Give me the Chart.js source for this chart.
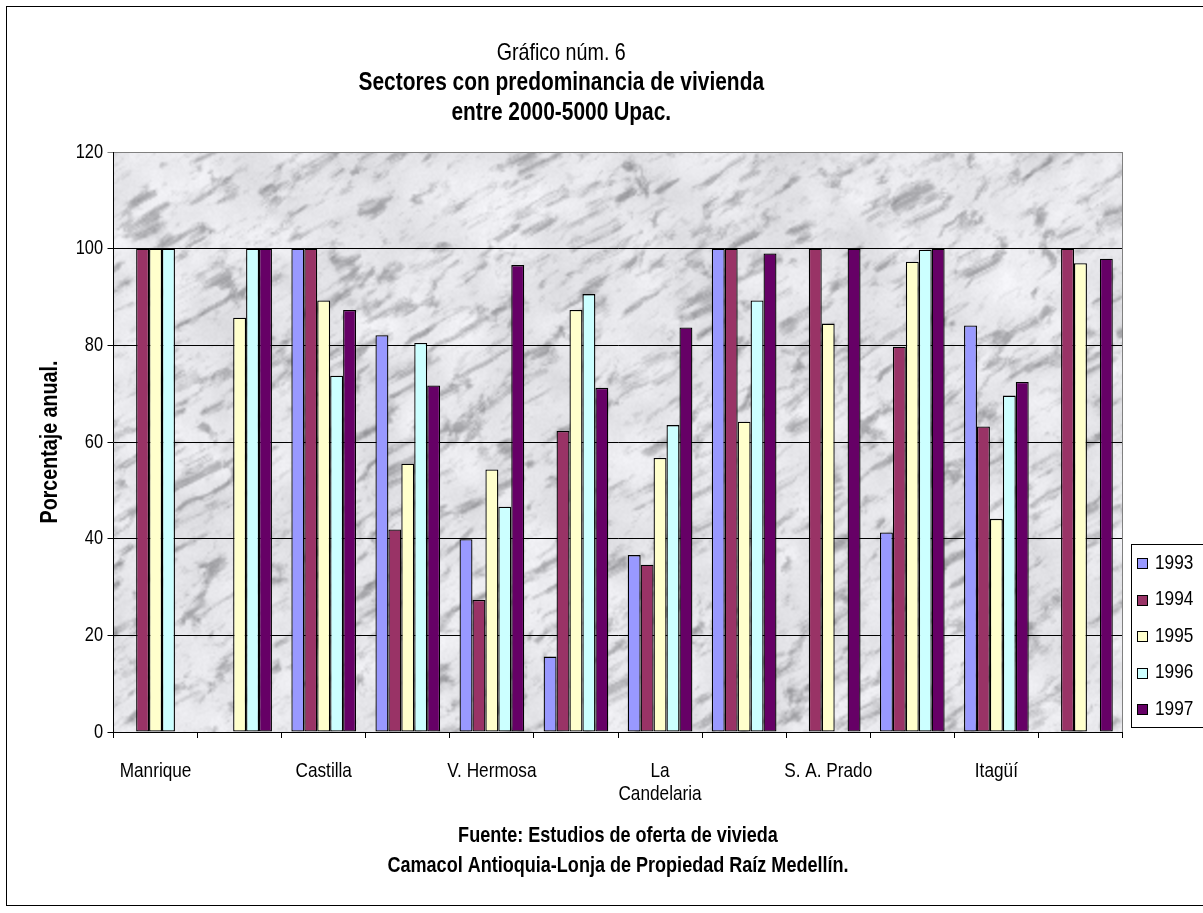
<!DOCTYPE html>
<html>
<head>
<meta charset="utf-8">
<script src="https://cdn.jsdelivr.net/npm/chart.js@4"></script>
<style>
  html, body { margin: 0; padding: 0; background: #fff; }
  #wrap { width: 1203px; height: 913px; }
</style>
</head>
<body>
<div id="wrap"><canvas id="c" width="1203" height="913"></canvas></div>
<script>
// Sectors (only every other sector name is printed on the axis)
const categories = ['Manrique', '', 'Castilla', '', 'V. Hermosa', '', ['La', 'Candelaria'], '', 'S. A. Prado', '', 'Itagüí', ''];
const years = ['1993', '1994', '1995', '1996', '1997'];

// Annual percentage per sector and year (null = no data)
const v1993 = [null, null, 100, 82.1, 39.9, 15.6, 36.6, 100, null, 41.3, 84.1, null];
const v1994 = [100, null, 100, 41.9, 27.3, 62.3, 34.6, 100, 100, 79.7, 63.2, 100];
const v1995 = [100, 85.7, 89.3, 55.5, 54.3, 87.3, 56.7, 64.2, 84.5, 97.3, 44.1, 97.0];
const v1996 = [100, 100, 73.7, 80.5, 46.6, 90.6, 63.5, 89.3, null, 99.8, 69.6, null];
const v1997 = [null, 100, 87.3, 71.7, 96.6, 71.2, 83.7, 99.0, 100, 100, 72.4, 97.9];

const yTickValues = [0, 20, 40, 60, 80, 100, 120];
const seriesColors = ['#9999FF', '#993366', '#FFFFCC', '#CCFFFF', '#660066'];

const titleText = 'Gráfico núm. 6';
const subtitleLines = ['Sectores con predominancia de vivienda', 'entre 2000-5000 Upac.'];
const yAxisTitle = 'Porcentaje anual.';
const sourceLines = ['Fuente: Estudios de oferta de vivieda', 'Camacol Antioquia-Lonja de Propiedad Raíz Medellín.'];

// ---- font: a narrow Arial-like face, or Liberation Sans squeezed horizontally ----
function hasFont(name) {
  const c = document.createElement('canvas').getContext('2d');
  c.font = '40px monospace';
  const a = c.measureText('Manrique 1993 wmWM').width;
  c.font = '40px "' + name + '", monospace';
  const b = c.measureText('Manrique 1993 wmWM').width;
  return Math.abs(a - b) > 0.5;
}
const NARROW = hasFont('Liberation Sans Narrow');
const FAMILY = NARROW ? '"Liberation Sans Narrow", "Liberation Sans", Arial, sans-serif'
                      : '"Liberation Sans", Arial, sans-serif';
const SQUEEZE = 0.82;

const canvas = document.getElementById('c');
const ctx2d = canvas.getContext('2d');
if (!NARROW) {
  const nativeFill = ctx2d.fillText;
  ctx2d.fillText = function (text, x, y, maxWidth) {
    const w = this.measureText(text).width * SQUEEZE;
    const mw = (maxWidth !== undefined && maxWidth !== null) ? Math.min(maxWidth, w) : w;
    return nativeFill.call(this, text, x, y, Math.max(mw, 0.01));
  };
}

// ---- marble texture for the plot background ----
function hash2(ix, iy, seed) {
  let h = Math.imul(ix, 374761393) ^ Math.imul(iy, 668265263) ^ Math.imul(seed, 1442695041);
  h = Math.imul(h ^ (h >>> 13), 1274126177);
  h ^= h >>> 16;
  return (h >>> 0) / 4294967295;
}
function vnoise(x, y, seed) {
  const ix = Math.floor(x), iy = Math.floor(y);
  const fx = x - ix, fy = y - iy;
  const sx = fx * fx * (3 - 2 * fx), sy = fy * fy * (3 - 2 * fy);
  const a = hash2(ix, iy, seed), b = hash2(ix + 1, iy, seed);
  const c = hash2(ix, iy + 1, seed), d = hash2(ix + 1, iy + 1, seed);
  const top = a + (b - a) * sx, bot = c + (d - c) * sx;
  return top + (bot - top) * sy;
}
function fbm(x, y, oct, seed) {
  let s = 0, amp = 0.5, f = 1, norm = 0;
  for (let i = 0; i < oct; i++) {
    s += amp * vnoise(x * f, y * f, seed + i * 17);
    norm += amp; amp *= 0.55; f *= 2.07;
  }
  return s / norm;
}
function smooth(e0, e1, x) {
  const t = Math.max(0, Math.min(1, (x - e0) / (e1 - e0)));
  return t * t * (3 - 2 * t);
}
// texture is generated at half resolution and scaled up, which keeps it soft
function makeMarble(w, h) {
  const cv = document.createElement('canvas');
  cv.width = w; cv.height = h;
  const g = cv.getContext('2d');
  const img = g.createImageData(w, h);
  const d = img.data;
  for (let y = 0; y < h; y++) {
    for (let x = 0; x < w; x++) {
      // grain runs diagonally, rising to the right
      const u = x * 0.82 - y * 0.57;
      const v = x * 0.57 + y * 0.82;
      const warp = fbm(x / 28, y / 28, 3, 5) * 3.5;
      const m1 = fbm(u / 13 + warp, v / 5 + warp * 0.4, 5, 11);
      const m2 = fbm(u / 6, v / 2.5, 3, 23);
      const light = fbm(x / 22, y / 22, 3, 37);
      const smudge = smooth(0.49, 0.82, m1);
      const fleck = smooth(0.58, 0.85, m2);
      let val = 231 + (light - 0.5) * 34 - smudge * 66 - fleck * 18 - (vnoise(x, y, 41) - 0.5) * 6;
      val = Math.max(140, Math.min(247, val));
      const i = (y * w + x) * 4;
      d[i] = val; d[i + 1] = val; d[i + 2] = Math.min(255, val + 4); d[i + 3] = 255;
    }
  }
  g.putImageData(img, 0, 0);
  return cv;
}
let marbleCache = null;

const framePlugin = {
  id: 'frame',
  beforeDraw(chart) {
    const ctx = chart.ctx, a = chart.chartArea;
    ctx.save();
    ctx.fillStyle = '#fff';
    ctx.fillRect(0, 0, chart.width, chart.height);
    // outer frame
    ctx.strokeStyle = '#000';
    ctx.lineWidth = 1;
    ctx.strokeRect(6.5, 6.5, chart.width + 20, 899);
    // plot background
    const w = Math.round(a.right - a.left), h = Math.round(a.bottom - a.top);
    if (!marbleCache || marbleCache.w !== w || marbleCache.h !== h) {
      marbleCache = { w, h, cv: makeMarble(Math.ceil(w / 2), Math.ceil(h / 2)) };
    }
    ctx.imageSmoothingEnabled = true;
    ctx.imageSmoothingQuality = 'high';
    ctx.drawImage(marbleCache.cv, a.left, a.top, w, h);
    ctx.restore();
  },
  beforeDatasetsDraw(chart) {
    const ctx = chart.ctx, a = chart.chartArea;
    ctx.save();
    ctx.strokeStyle = '#808080';
    ctx.lineWidth = 1;
    ctx.beginPath();
    const xr = Math.round(a.right) - 0.5;
    ctx.moveTo(xr, a.top);
    ctx.lineTo(xr, a.bottom);
    ctx.stroke();
    ctx.restore();
  },
  afterDraw(chart) {
    const ctx = chart.ctx, a = chart.chartArea;
    ctx.save();
    ctx.fillStyle = '#000';
    ctx.textAlign = 'center';
    ctx.textBaseline = 'middle';
    ctx.font = 'bold 22px ' + FAMILY;
    const cx = (a.left + a.right) / 2;
    sourceLines.forEach((line, i) => ctx.fillText(line, cx, 836 + i * 30));

    // legend
    const ds = chart.data.datasets;
    const lx = 1131.5, ly = 544.5, lh = 183;
    ctx.fillStyle = '#fff';
    ctx.fillRect(lx, ly, 100, lh);
    ctx.strokeStyle = '#000';
    ctx.strokeRect(lx, ly, 100, lh);
    ctx.font = '21px ' + FAMILY;
    ctx.textAlign = 'left';
    ds.forEach((d, i) => {
      const cy = 563 + i * 36.5;
      ctx.fillStyle = d.backgroundColor;
      ctx.fillRect(1137.5, Math.round(cy - 5) + 0.5, 10, 10);
      ctx.strokeStyle = '#000';
      ctx.strokeRect(1137.5, Math.round(cy - 5) + 0.5, 10, 10);
      ctx.fillStyle = '#000';
      ctx.fillText(d.label, 1155, cy);
    });
    ctx.restore();
  }
};

const allSeries = [v1993, v1994, v1995, v1996, v1997];

new Chart(canvas, {
  type: 'bar',
  data: {
    labels: categories,
    datasets: years.map((yr, i) => ({
      label: yr,
      data: allSeries[i],
      backgroundColor: seriesColors[i],
      borderColor: '#000',
      borderWidth: 1.3,
      borderSkipped: false,
      categoryPercentage: 5 / 6.5,
      barPercentage: 1
    }))
  },
  options: {
    responsive: false,
    animation: false,
    layout: { padding: { left: 0, right: 80.5, top: 0, bottom: 81 } },
    plugins: {
      legend: { display: false },
      tooltip: { enabled: false },
      title: {
        display: true,
        text: titleText,
        color: '#000',
        font: { family: FAMILY, size: 24, weight: 'normal', lineHeight: '30px' },
        padding: { top: 38, bottom: 0 }
      },
      subtitle: {
        display: true,
        text: subtitleLines,
        color: '#000',
        font: { family: FAMILY, size: 25.5, weight: 'bold', lineHeight: '30px' },
        padding: { top: 0, bottom: 24 }
      }
    },
    scales: {
      x: {
        offset: true,
        grid: { offset: true, drawOnChartArea: false, drawTicks: true, tickLength: 6, color: '#000' },
        border: { color: '#000', width: 1 },
        ticks: {
          autoSkip: false, maxRotation: 0, minRotation: 0, padding: 22, color: '#000',
          font: { family: FAMILY, size: 21, lineHeight: '23px' }
        },
        afterFit(s) { s.height = 100; }
      },
      y: {
        min: 0, max: 120,
        afterBuildTicks(s) { s.ticks = yTickValues.map(v => ({ value: v })); },
        grid: {
          color: c => (c.tick && c.tick.value === 120 ? '#808080' : '#000'),
          lineWidth: 1, drawTicks: true, tickLength: 6
        },
        border: { color: '#000', width: 1 },
        ticks: { padding: 4.5, color: '#000', font: { family: FAMILY, size: 20 } },
        title: {
          display: true, text: yAxisTitle, color: '#000',
          font: { family: FAMILY, size: 24, weight: 'bold', lineHeight: '28px' },
          padding: { top: 36, bottom: 0 }
        },
        afterFit(s) { s.width = 113.5; }
      }
    }
  },
  plugins: [framePlugin]
});
</script>
</body>
</html>
